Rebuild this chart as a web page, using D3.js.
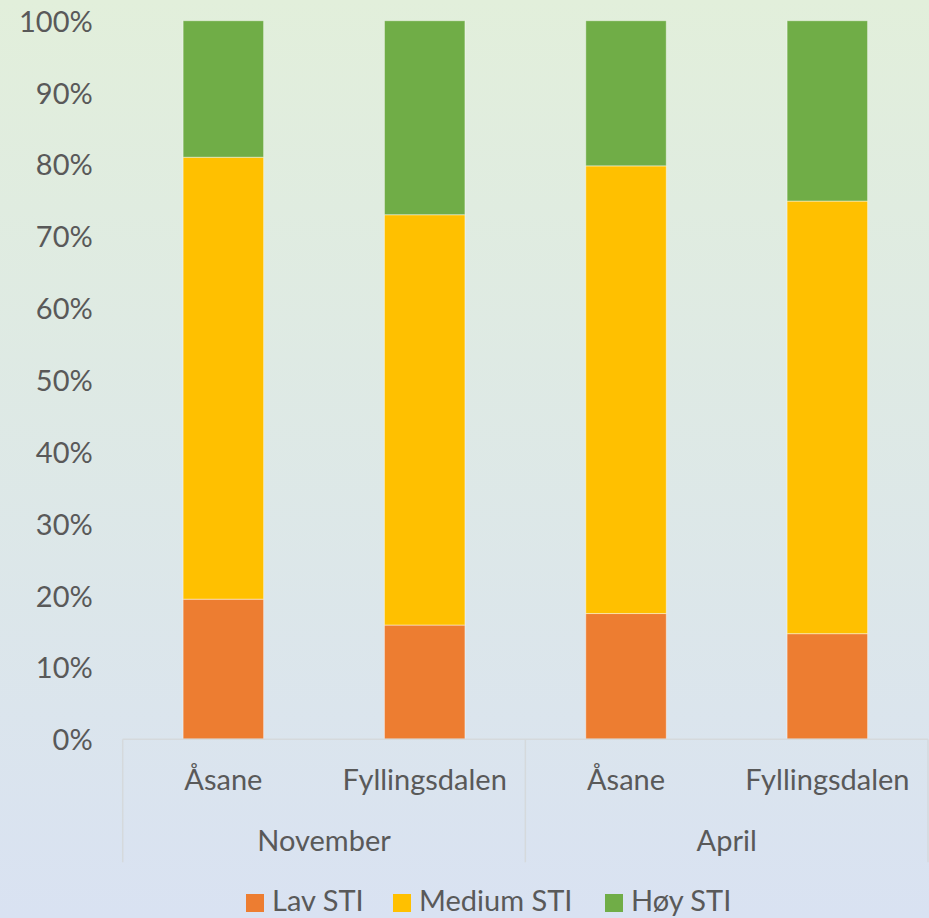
<!DOCTYPE html>
<html>
<head>
<meta charset="utf-8">
<script src="https://cdn.jsdelivr.net/npm/d3@7"></script>
<style>
  html, body { margin: 0; padding: 0; }
  body { width: 929px; height: 918px; overflow: hidden; }
  text { font-family: Lato, "Open Sans", sans-serif; fill: #595959; }
</style>
</head>
<body>
<div id="chart"></div>
<script>
// STI share per site and month (percent)
const months = ["November", "April"];
const sites = ["Åsane", "Fyllingsdalen"];
const seriesNames = ["Lav STI", "Medium STI", "Høy STI"];
const seriesColors = ["#ed7d31", "#ffc000", "#70ad47"];

const lavValues = [19.5, 15.9, 17.5, 14.7];
const mediumValues = [61.5, 57.1, 62.3, 60.2];
const hoyValues = [19.0, 27.0, 20.2, 25.1];

const yTickValues = [0, 10, 20, 30, 40, 50, 60, 70, 80, 90, 100];

const FONT_SIZE = "29px";

// build rows: one per (month, site)
const rows = [];
months.forEach((m, mi) => {
  sites.forEach((s, si) => {
    const i = mi * sites.length + si;
    rows.push({
      key: m + "|" + s, month: m, site: s,
      "Lav STI": lavValues[i],
      "Medium STI": mediumValues[i],
      "Høy STI": hoyValues[i]
    });
  });
});

const W = 929, H = 918;
const margin = {top: 20.7, right: 1, bottom: 178.7, left: 122.7};
const width = W - margin.left - margin.right;
const height = H - margin.top - margin.bottom;

const svg = d3.select("#chart").append("svg")
  .attr("width", W)
  .attr("height", H);

// background gradient (green on top, blue at bottom)
const defs = svg.append("defs");
const grad = defs.append("linearGradient")
  .attr("id", "bg").attr("x1", 0).attr("y1", 0).attr("x2", 0).attr("y2", 1);
grad.append("stop").attr("offset", "0%").attr("stop-color", "#e2efdb");
grad.append("stop").attr("offset", "100%").attr("stop-color", "#d9e2f2");
svg.append("rect").attr("width", W).attr("height", H).attr("fill", "url(#bg)");

const g = svg.append("g").attr("transform", `translate(${margin.left},${margin.top})`);

// scales
const x = d3.scaleBand()
  .domain(rows.map(d => d.key))
  .range([0, width])
  .paddingInner(0.6)
  .paddingOuter(0.3);

const y = d3.scaleLinear().domain([0, 100]).range([height, 0]);
const color = d3.scaleOrdinal().domain(seriesNames).range(seriesColors);

// stacked bars
const stacked = d3.stack().keys(seriesNames)(rows);
g.append("g").selectAll("g")
  .data(stacked)
  .join("g")
  .attr("fill", d => color(d.key))
  .selectAll("rect")
  .data(d => d)
  .join("rect")
  .attr("x", d => x(d.data.key))
  .attr("y", d => y(d[1]))
  .attr("width", x.bandwidth())
  .attr("height", d => y(d[0]) - y(d[1]))
  .attr("stroke", "rgba(255,255,255,0.45)")
  .attr("stroke-width", 1);

// y axis labels (no line)
const yAxis = g.append("g")
  .call(d3.axisLeft(y).tickValues(yTickValues).tickFormat(d => d + "%").tickSize(0).tickPadding(30));
yAxis.select(".domain").remove();
yAxis.selectAll("text")
  .style("font-size", FONT_SIZE)
  .style("font-family", "Lato, sans-serif")
  .attr("fill", "#595959")
  .attr("dy", "0.36em");

// category axis: base line and group separators
const lineColor = "#d5d9dc";
g.append("line")
  .attr("x1", 0).attr("x2", width)
  .attr("y1", height).attr("y2", height)
  .attr("stroke", lineColor).attr("stroke-width", 1.5);

const groupWidth = width / months.length;
d3.range(months.length + 1).forEach(i => {
  g.append("line")
    .attr("x1", i * groupWidth).attr("x2", i * groupWidth)
    .attr("y1", height).attr("y2", height + 123)
    .attr("stroke", lineColor).attr("stroke-width", 1.5);
});

// site labels
g.append("g").selectAll("text")
  .data(rows)
  .join("text")
  .attr("x", d => x(d.key) + x.bandwidth() / 2)
  .attr("y", height + 51)
  .attr("text-anchor", "middle")
  .style("font-size", FONT_SIZE)
  .text(d => d.site);

// month labels
g.append("g").selectAll("text")
  .data(months)
  .join("text")
  .attr("x", (d, i) => (i + 0.5) * groupWidth)
  .attr("y", height + 112)
  .attr("text-anchor", "middle")
  .style("font-size", FONT_SIZE)
  .text(d => d);

// legend
const legendX = [246, 393, 605];
const legend = svg.append("g").selectAll("g")
  .data(seriesNames)
  .join("g")
  .attr("transform", (d, i) => `translate(${legendX[i]}, 894)`);
legend.append("rect")
  .attr("width", 18).attr("height", 18)
  .attr("fill", d => color(d));
legend.append("text")
  .attr("x", 26)
  .attr("y", 17)
  .style("font-size", FONT_SIZE)
  .text(d => d);
</script>
</body>
</html>
